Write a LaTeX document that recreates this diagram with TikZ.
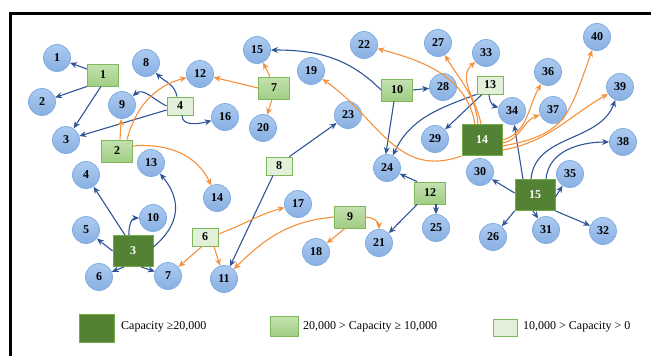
\documentclass[tikz,border=0pt]{standalone}
\usepackage{fontspec}
\setmainfont{Liberation Serif}
\usetikzlibrary{arrows.meta}
\definecolor{eblue}{RGB}{47,85,151}
\definecolor{eorange}{RGB}{245,145,60}
\definecolor{circtop}{RGB}{172,203,240}
\definecolor{circbot}{RGB}{136,176,226}
\definecolor{circline}{RGB}{128,172,226}
\definecolor{darkg}{RGB}{84,130,53}
\definecolor{darkgline}{RGB}{112,173,71}
\definecolor{midtop}{RGB}{196,226,176}
\definecolor{midbot}{RGB}{160,205,132}
\definecolor{midline}{RGB}{125,185,90}
\definecolor{lightg}{RGB}{226,240,217}
\begin{document}
\begin{tikzpicture}[x=1pt,y=-1pt,
  circ/.style={circle, minimum size=27pt, inner sep=0pt, draw=circline, line width=0.8pt,
    top color=circtop, bottom color=circbot, font=\fontsize{12}{12}\selectfont\bfseries},
  bigbox/.style={rectangle, minimum width=40pt, minimum height=31pt, inner sep=0pt,
    fill=darkg, draw=darkgline, line width=0.8pt, text=white, font=\fontsize{12}{12}\selectfont\bfseries},
  midbox/.style={rectangle, minimum width=31pt, minimum height=22pt, inner sep=0pt,
    top color=midtop, bottom color=midbot, draw=midline, line width=0.8pt, font=\fontsize{12}{12}\selectfont\bfseries},
  smallbox/.style={rectangle, minimum width=26pt, minimum height=18pt, inner sep=0pt,
    fill=lightg, draw=midline, line width=0.8pt, font=\fontsize{12}{12}\selectfont\bfseries},
  barr/.style={draw=eblue, line width=1.1pt, -{Stealth[length=7pt,width=6pt]}},
  oarr/.style={draw=eorange, line width=1.1pt, -{Stealth[length=7pt,width=6pt]}},
  legtext/.style={anchor=west, inner sep=0pt, font=\fontsize{12}{14}\selectfont}
]
\useasboundingbox (0,0) rectangle (651,356);
\draw[line width=3pt] (10.5,358) -- (10.5,13.5) -- (653,13.5);

% circles
\node[circ] (c1) at (57,58) {1};
\node[circ] (c2) at (42,102) {2};
\node[circ] (c3) at (66,140) {3};
\node[circ] (c4) at (86,175) {4};
\node[circ] (c5) at (86,230) {5};
\node[circ] (c6) at (99,277) {6};
\node[circ] (c7) at (168,276) {7};
\node[circ] (c8) at (146,63) {8};
\node[circ] (c9) at (122,105) {9};
\node[circ] (c10) at (153,218) {10};
\node[circ] (c11) at (224,279) {11};
\node[circ] (c12) at (200,74) {12};
\node[circ] (c13) at (151,163) {13};
\node[circ] (c14) at (217,198) {14};
\node[circ] (c15) at (257,50) {15};
\node[circ] (c16) at (225,117) {16};
\node[circ] (c17) at (298,204) {17};
\node[circ] (c18) at (316,252) {18};
\node[circ] (c19) at (311,71) {19};
\node[circ] (c20) at (263,128) {20};
\node[circ] (c21) at (379,243) {21};
\node[circ] (c22) at (364,45) {22};
\node[circ] (c23) at (348,115) {23};
\node[circ] (c24) at (387,168) {24};
\node[circ] (c25) at (436,228) {25};
\node[circ] (c26) at (493,237) {26};
\node[circ] (c27) at (438,43) {27};
\node[circ] (c28) at (443,87) {28};
\node[circ] (c29) at (435,139) {29};
\node[circ] (c30) at (480,172) {30};
\node[circ] (c31) at (546,230) {31};
\node[circ] (c32) at (603,231) {32};
\node[circ] (c33) at (486,53) {33};
\node[circ] (c34) at (512,111) {34};
\node[circ] (c35) at (570,174) {35};
\node[circ] (c36) at (548,72) {36};
\node[circ] (c37) at (553,110) {37};
\node[circ] (c38) at (623,142) {38};
\node[circ] (c39) at (620,87) {39};
\node[circ] (c40) at (597,37) {40};

% boxes
\node[midbox] (b1) at (103,75) {1};
\node[midbox] (b2) at (117,151) {2};
\node[bigbox] (b3) at (133,251) {3};
\node[smallbox] (b4) at (180,106) {4};
\node[smallbox] (b6) at (205,237) {6};
\node[midbox] (b7) at (274,88) {7};
\node[smallbox] (b8) at (279,166) {8};
\node[midbox] (b9) at (350,217) {9};
\node[midbox] (b10) at (397,90) {10};
\node[midbox] (b12) at (430,193) {12};
\node[smallbox] (b13) at (490,85) {13};
\node[bigbox] (b14) at (482,140) {14};
\node[bigbox] (b15) at (535,195) {15};

% blue connectors
\draw[barr] (b1) -- (c1);
\draw[barr] (b1.south west) -- (c2);
\draw[barr] ([xshift=-2pt]b1.south) -- (c3);
\draw[barr] ([xshift=-3pt]b4.north) to[out=100,in=-45] (c8);
\draw[barr] (b4.west) to[out=155,in=40] (c9);
\draw[barr] ([yshift=-4pt]b4.west) -- (c3);
\draw[barr] ([xshift=2pt]b4.south) to[out=-90,in=195] (c16);
\draw[barr] ([xshift=-8pt]b3.north) -- (c4);
\draw[barr] (b3.west) -- (c5);
\draw[barr] ([xshift=-9pt]b3.south) -- (c6);
\draw[barr] ([xshift=8pt]b3.south) -- (c7);
\draw[barr] ([xshift=-4pt]b3.north) to[out=95,in=180] (c10);
\draw[barr] ([yshift=4pt]b3.east) to[out=40,in=-50,looseness=1.2] (c13);
\draw[barr] ([xshift=-3pt]b8.north east) -- (c23);
\draw[barr] ([xshift=-6pt]b8.south) -- (c11);
\draw[barr] (b10.east) -- (c28);
\draw[barr] ([xshift=-3pt]b10.south) -- (c24.95);
\draw[barr] (b10.west) to[out=135,in=0] (c15);
\draw[barr] ([xshift=3pt]b12.north west) -- (c24);
\draw[barr] ([xshift=6pt]b12.south) -- (c25);
\draw[barr] ([xshift=3pt]b12.south west) -- (c21);
\draw[barr] ([xshift=-1pt]b13.south) to[out=-90,in=165] (c34);
\draw[barr] ([xshift=-8pt]b13.south) -- (c29);
\draw[barr] (b13.south west) to[out=200,in=65] (c24);
\draw[barr] ([yshift=2pt]b15.west) -- (c30);
\draw[barr] (b15.south west) -- (c26);
\draw[barr] ([xshift=-2pt]b15.south) -- (c31);
\draw[barr] (b15.south east) -- (c32);
\draw[barr] ([yshift=-2pt]b15.east) -- (c35);
\draw[barr] ([xshift=-12pt]b15.north) -- (c34);
\draw[barr] ([xshift=-4pt]b15.north) to[out=85,in=250] (c39);
\draw[barr] ([xshift=11pt]b15.north) to[out=85,in=180] (c38);

% orange connectors
\draw[oarr] ([xshift=3pt]b2.north) -- (c9);
\draw[oarr] ([xshift=10pt]b2.north) to[out=75,in=195] (c12);
\draw[oarr] ([yshift=5pt]b2.east) to[out=5,in=115] (c14);
\draw[oarr] ([xshift=-3pt]b6.south) -- (c7);
\draw[oarr] ([xshift=9pt]b6.south) -- (c11);
\draw[oarr] ([yshift=3pt]b6.east) to[out=20,in=195] (c17);
\draw[oarr] ([xshift=-4pt]b7.north) -- (c15);
\draw[oarr] (b7.west) -- (c12);
\draw[oarr] ([xshift=-2pt]b7.south) -- (c20);
\draw[oarr] ([xshift=-5pt]b9.south) -- (c18);
\draw[oarr] (b9.east) to[out=0,in=90] (c21);
\draw[oarr] (b9.west) to[out=185,in=45] (c11);
\draw[oarr] ([xshift=-7pt]b14.north) to[out=100,in=-15] (c22);
\draw[oarr] ([xshift=-4pt]b14.north) to[out=95,in=-60] (c27);
\draw[oarr] ([xshift=-1pt]b14.north) to[out=100,in=220] (c33);
\draw[oarr] (b14.south west) to[out=200,in=-35,looseness=1.1] (c19);
\draw[oarr] (b14.east) to[out=15,in=240] (c36);
\draw[oarr] ([yshift=-3pt]b14.east) to[out=10,in=200] (c37);
\draw[oarr] ([yshift=-6pt]b14.east) to[out=10,in=250,looseness=1.3] (c40);
\draw[oarr] ([yshift=-10pt]b14.east) to[out=10,in=210] (c39);

% legend
\node[bigbox, minimum width=35pt, minimum height=28pt] (l1) at (96.5,328) {};
\node[legtext] (t1) at (121,327) {Capacity ≥20,000};
\node[midbox, minimum width=28pt, minimum height=20pt] (l2) at (284,326) {};
\node[legtext] (t2) at (303,327) {20,000 > Capacity ≥ 10,000};
\node[smallbox, minimum width=24pt, minimum height=17pt] (l3) at (505,327.5) {};
\node[legtext] (t3) at (523,327) {10,000 > Capacity > 0};
\end{tikzpicture}
\end{document}
